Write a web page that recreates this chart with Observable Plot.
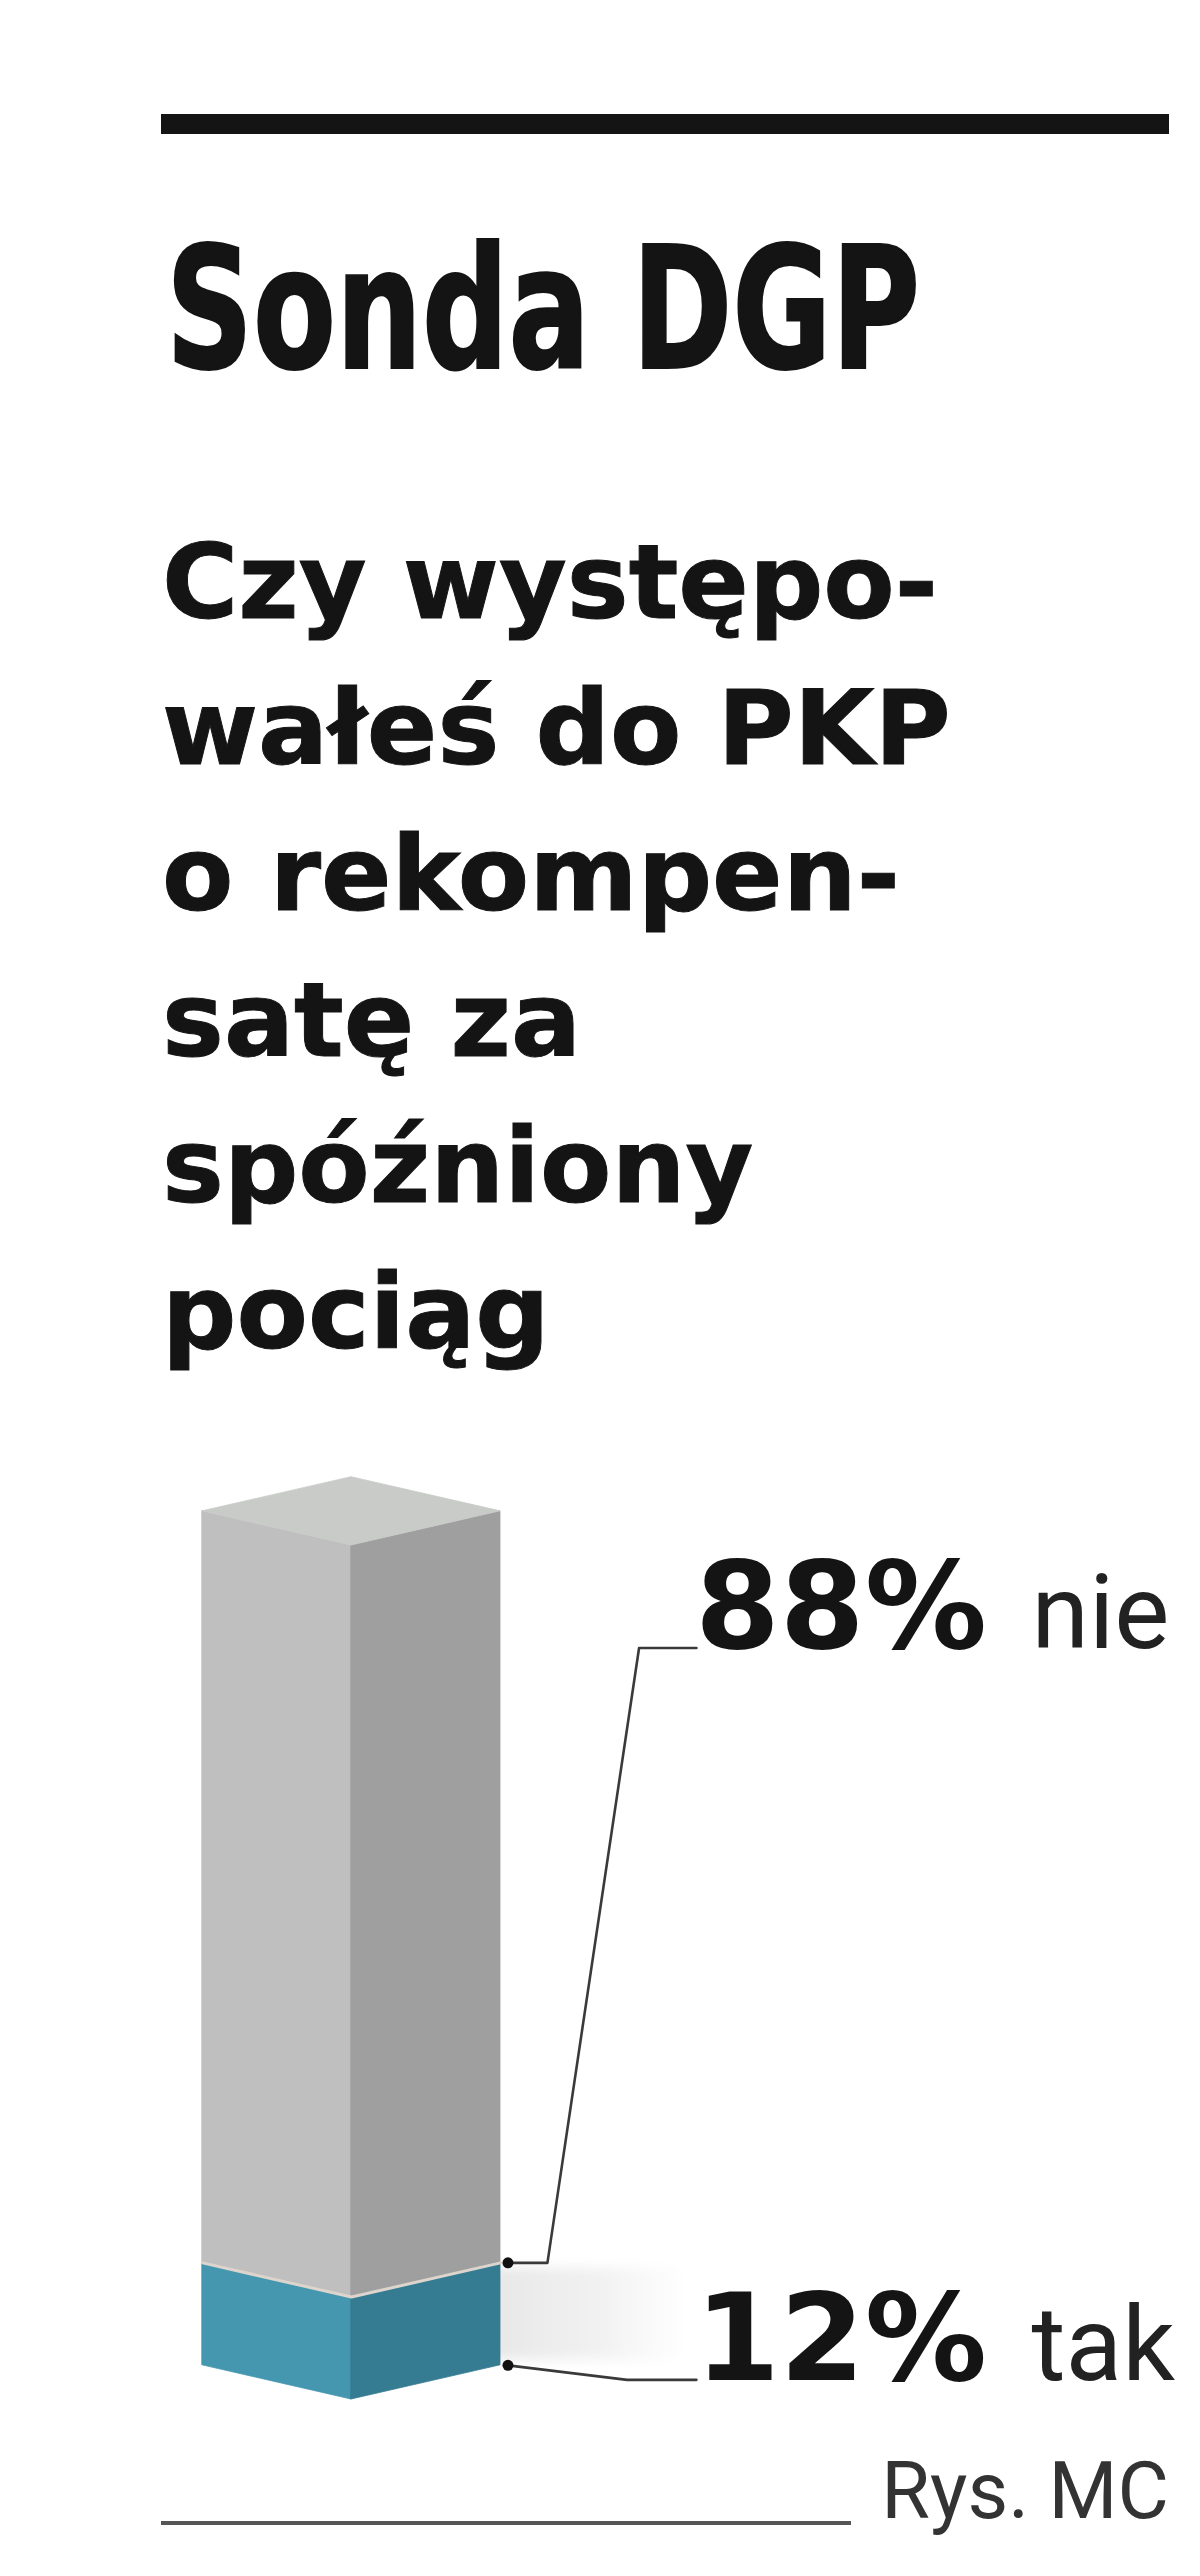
<!DOCTYPE html>
<html><head><meta charset="utf-8">
<script src="https://cdn.jsdelivr.net/npm/d3@7"></script>
<script src="https://cdn.jsdelivr.net/npm/@observablehq/plot@0.6"></script>
<style>
html,body{margin:0;padding:0;background:#fff;}
#page{position:relative;width:1200px;height:2576px;overflow:hidden;background:#fff;}
.abs{position:absolute;white-space:nowrap;line-height:0;}
#topRule{position:absolute;left:161px;top:114px;width:1008px;height:20px;background:#141414;}
#title{left:166px;top:309px;font-family:"Liberation Sans Narrow","Arial Narrow","DejaVu Sans Condensed",sans-serif;font-weight:700;font-size:170px;color:#141414;transform-origin:0 0;-webkit-text-stroke:2px #141414;}
.sub{left:162px;font-family:"DejaVu Sans",sans-serif;font-weight:700;font-size:104px;color:#141414;-webkit-text-stroke:1px #141414;}
#chart{position:absolute;left:0;top:1400px;}
#botRule{position:absolute;left:161px;top:2521px;width:690px;height:4px;background:#555;}
#credit{right:31px;top:2491px;font-family:Roboto,sans-serif;font-size:79px;color:#333;}
</style>
</head>
<body>
<div id="page">
  <div id="topRule"></div>
  <div id="title" class="abs">Sonda DGP</div>
  <div id="subtitle"></div>
  <div id="chart"></div>
  <div id="botRule"></div>
  <div id="credit" class="abs">Rys. MC</div>
</div>
<script>
// ---- data ----
const categories = ["tak", "nie"];
const values = [12, 88];
const subtitleLines = ["Czy występo-", "wałeś do PKP", "o rekompen-", "satę za", "spóźniony", "pociąg"];

// ---- layout / style (not data) ----
const DEPTH = 4;                       // isometric rise, in value units
const faceColors = {
  tak: {left: "#4597b0", right: "#357b92"},
  nie: {left: "#bfbfbf", right: "#9e9f9e"}
};
const topColor = "#c9cbc9";
const labelY = {tak: 2.3, nie: 88};
const subBaselines = [618, 764, 910, 1056, 1202, 1348];

// subtitle
const subDiv = document.getElementById("subtitle");
subtitleLines.forEach((t, i) => {
  const d = document.createElement("div");
  d.className = "abs sub";
  d.style.top = (subBaselines[i] - 0.346 * 104) + "px";
  d.textContent = t;
  subDiv.appendChild(d);
});

// stack
let acc = 0;
const segs = categories.map((c, i) => { const s = {cat: c, lo: acc, hi: acc + values[i], value: values[i]}; acc += values[i]; return s; });
const total = acc;

const faces = [];
segs.forEach(s => {
  faces.push({id: s.cat + "-L", x: -1, y1: s.lo + DEPTH, y2: s.hi + DEPTH, fill: faceColors[s.cat].left});
  faces.push({id: s.cat + "-L", x: 0, y1: s.lo, y2: s.hi, fill: faceColors[s.cat].left});
  faces.push({id: s.cat + "-R", x: 0, y1: s.lo, y2: s.hi, fill: faceColors[s.cat].right});
  faces.push({id: s.cat + "-R", x: 1, y1: s.lo + DEPTH, y2: s.hi + DEPTH, fill: faceColors[s.cat].right});
});
faces.push({id: "top", x: -1, y1: total + DEPTH, y2: total + DEPTH, fill: topColor});
faces.push({id: "top", x: 0, y1: total, y2: total + 2 * DEPTH, fill: topColor});
faces.push({id: "top", x: 1, y1: total + DEPTH, y2: total + DEPTH, fill: topColor});

const tak = segs[0];
const seam = [
  {x: -1, y: tak.hi + DEPTH}, {x: 0, y: tak.hi}, {x: 1, y: tak.hi + DEPTH}
];
const leaders = [
  {cat: "nie", x: 1.05, y: tak.hi + DEPTH},
  {cat: "nie", x: 1.315, y: tak.hi + DEPTH},
  {cat: "nie", x: 1.93, y: labelY.nie},
  {cat: "nie", x: 2.315, y: labelY.nie},
  {cat: "tak", x: 1.05, y: tak.lo + DEPTH},
  {cat: "tak", x: 1.85, y: labelY.tak},
  {cat: "tak", x: 2.315, y: labelY.tak}
];
const dots = [{x: 1.05, y: tak.hi + DEPTH}, {x: 1.05, y: tak.lo + DEPTH}];
const labels = segs.map(s => ({cat: s.cat, num: s.value + "%", y: labelY[s.cat]}));

const plot = Plot.plot({
  width: 1200,
  height: 1060,
  margin: 0,
  x: {domain: [-1, 1], range: [202, 500], axis: null},
  y: {domain: [0, 100], range: [999, 145], axis: null},
  color: {type: "identity"},
  marks: [
    Plot.rect([{x1: 0.85, x2: 2.25, y1: tak.lo + DEPTH + 0.6, y2: tak.hi + DEPTH - 0.6}], {x1: "x1", x2: "x2", y1: "y1", y2: "y2", fill: "url(#shade)", className: "shade"}),
    Plot.area(faces, {x1: "x", y1: "y1", y2: "y2", z: "id", fill: "fill", stroke: "fill", strokeWidth: 0.8, curve: "linear"}),
    Plot.line(seam, {x: "x", y: "y", stroke: "#ddd5cd", strokeWidth: 3, curve: "linear"}),
    Plot.line(leaders, {x: "x", y: "y", z: "cat", stroke: "#3a3a3a", strokeWidth: 2.6, curve: "linear"}),
    Plot.dot(dots, {x: "x", y: "y", r: 5.5, fill: "#111"}),
    Plot.text(labels, {x: 4.265, y: "y", text: "num", textAnchor: "end", lineAnchor: "bottom", fontSize: 122, fontWeight: 700, fontFamily: "DejaVu Sans", fill: "#141414"}),
    Plot.text(labels, {x: 4.564, y: "y", text: "cat", textAnchor: "start", lineAnchor: "bottom", fontSize: 104, fontFamily: "Roboto", fill: "#222"})
  ]
});
document.getElementById("chart").appendChild(plot);

const svg = d3.select(plot);
const defs = svg.insert("defs", ":first-child");
const grad = defs.append("linearGradient").attr("id", "shade").attr("x1", "0").attr("x2", "1").attr("y1", "0").attr("y2", "0");
grad.append("stop").attr("offset", "0").attr("stop-color", "#e6e6e6");
grad.append("stop").attr("offset", "0.6").attr("stop-color", "#f2f2f2");
grad.append("stop").attr("offset", "1").attr("stop-color", "#ffffff");
const blur = defs.append("filter").attr("id", "soft").attr("x", "-20%").attr("y", "-30%").attr("width", "140%").attr("height", "160%");
blur.append("feGaussianBlur").attr("stdDeviation", 6);
svg.selectAll("g.shade").attr("filter", "url(#soft)");

// fit title width to the reference's measured width
function fit() {
  const t = document.getElementById("title");
  t.style.transform = "none";
  const w = t.getBoundingClientRect().width;
  if (w > 0) t.style.transform = `scaleX(${754 / w})`;
}
fit();
if (document.fonts && document.fonts.ready) document.fonts.ready.then(fit);
</script>
</body></html>
